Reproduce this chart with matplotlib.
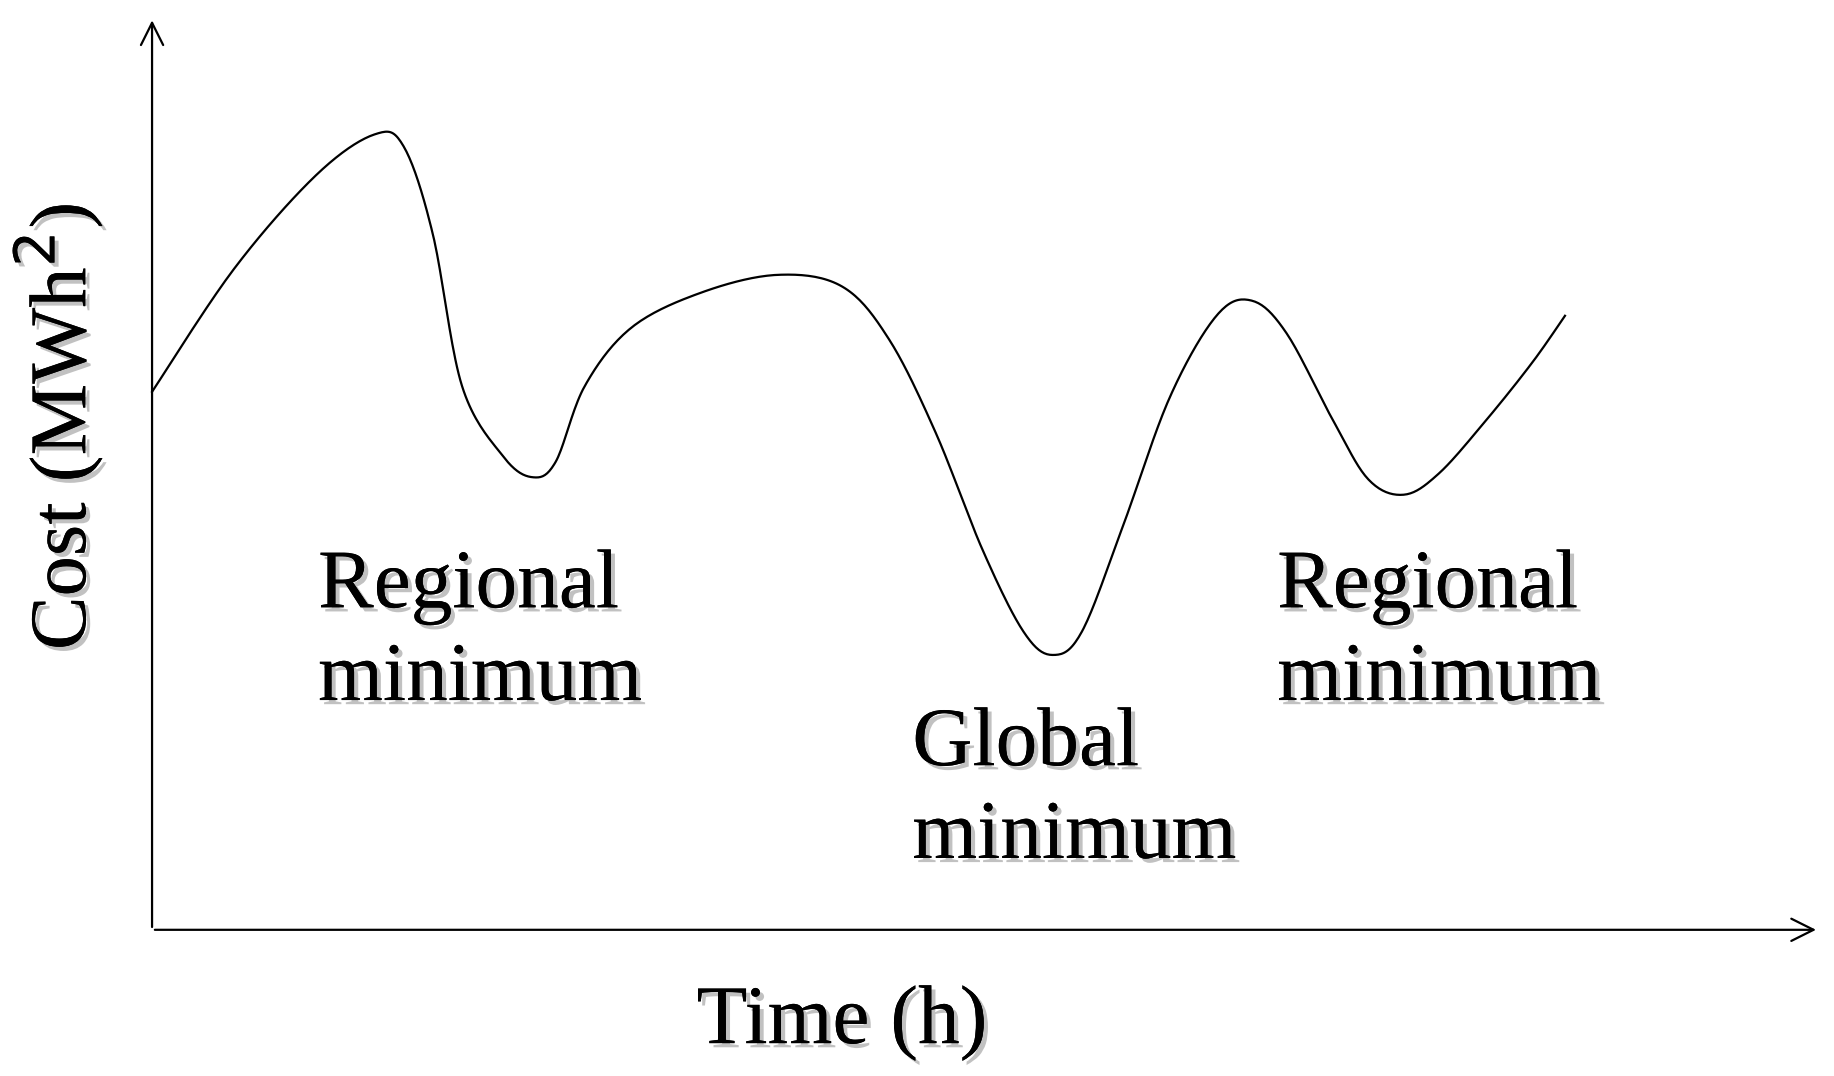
import matplotlib
matplotlib.use("Agg")
import matplotlib.pyplot as plt
import matplotlib.patheffects as pe
import numpy as np

# curve samples (time, cost) in arbitrary units
time = [0, 70, 140, 190, 215, 240, 265, 300, 325, 345, 370, 410, 470, 535, 590, 630, 670, 710, 745, 770, 795, 830, 870, 910, 940, 970, 1010, 1040, 1070, 1100, 1140, 1180, 1208]
cost = [460, 565, 645, 680, 670, 595, 465, 405, 387, 400, 465, 515, 545, 560, 550, 505, 425, 325, 255, 235, 255, 345, 455, 525, 538, 510, 435, 385, 372, 390, 435, 485, 525]
labels = [("Regional\nminimum", 142, 253), ("Global\nminimum", 650, 118), ("Regional\nminimum", 962, 253)]

# smooth via Catmull-Rom for drawing
t = np.array(time, float); c = np.array(cost, float)
P = np.column_stack([t, c]); P = np.vstack([P[0], P, P[-1]])
pts = []
for i in range(1, len(P) - 2):
    p0, p1, p2, p3 = P[i-1], P[i], P[i+1], P[i+2]
    for s in np.linspace(0, 1, 20, endpoint=False):
        pts.append(0.5*((2*p1)+(-p0+p2)*s+(2*p0-5*p1+4*p2-p3)*s**2+(-p0+3*p1-3*p2+p3)*s**3))
pts.append(P[-2]); pts = np.array(pts)

plt.rcParams['font.family'] = ['Liberation Serif', 'DejaVu Serif']
fig = plt.figure(figsize=(18.34, 10.76), dpi=100)
ax = fig.add_axes([0, 0, 1, 1])
ax.set_xlim(-130, 1438); ax.set_ylim(-125, 795); ax.axis('off')
ax.plot(pts[:, 0], pts[:, 1], color='black', lw=1.6)
ax.annotate('', xy=(0, 780), xytext=(0, 0), arrowprops=dict(arrowstyle='->', lw=1.6, mutation_scale=40))
ax.annotate('', xy=(1425, 0), xytext=(0, 0), arrowprops=dict(arrowstyle='->', lw=1.6, mutation_scale=40))
sh = [pe.withSimplePatchShadow(offset=(3, -3), shadow_rgbFace='#999999', alpha=0.6), pe.Normal()]
for txt, x, y in labels:
    ax.text(x, y, txt, fontsize=60, va='center', ha='left', linespacing=1.3, path_effects=sh)
ax.text(590, -80, 'Time (h)', fontsize=60, ha='center', va='center', path_effects=sh)
ax.text(-80, 430, 'Cost (MWh$^2$)', fontsize=58, ha='center', va='center', rotation=90, path_effects=sh)
fig.savefig('out.png', dpi=100)
